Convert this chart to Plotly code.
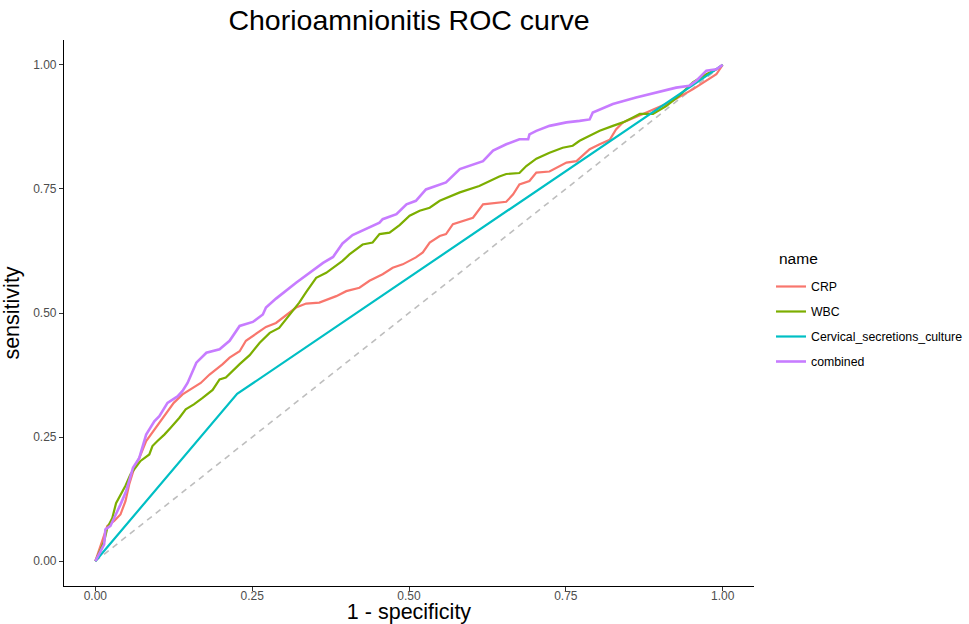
import plotly.graph_objects as go

# ROC points (1 - specificity, sensitivity)
crp_fpr = [0, 0.011, 0.019, 0.030, 0.040, 0.048, 0.054, 0.062, 0.070, 0.081, 0.104, 0.125,
           0.139, 0.152, 0.168, 0.182, 0.203, 0.214, 0.230, 0.240, 0.272, 0.288, 0.299, 0.320,
           0.336, 0.357, 0.384, 0.400, 0.421, 0.437, 0.458, 0.474, 0.490, 0.511, 0.522, 0.533,
           0.549, 0.559, 0.570, 0.602, 0.618, 0.655, 0.666, 0.676, 0.692, 0.703, 0.724, 0.751,
           0.767, 0.788, 0.804, 0.820, 0.830, 0.841, 0.873, 0.915, 0.953, 0.979, 0.990, 1.0]
crp_tpr = [0, 0.040, 0.071, 0.081, 0.094, 0.121, 0.155, 0.188, 0.208, 0.242, 0.282, 0.319,
           0.336, 0.346, 0.359, 0.376, 0.397, 0.410, 0.423, 0.444, 0.472, 0.480, 0.491, 0.511,
           0.519, 0.521, 0.534, 0.544, 0.551, 0.565, 0.578, 0.591, 0.598, 0.612, 0.622, 0.642,
           0.655, 0.659, 0.679, 0.692, 0.719, 0.724, 0.739, 0.759, 0.766, 0.783, 0.785, 0.803,
           0.806, 0.830, 0.840, 0.849, 0.870, 0.884, 0.901, 0.924, 0.951, 0.971, 0.981, 1.0]

wbc_fpr = [0, 0.014, 0.019, 0.027, 0.033, 0.040, 0.048, 0.056, 0.064, 0.072, 0.086, 0.091,
           0.099, 0.110, 0.120, 0.134, 0.144, 0.157, 0.171, 0.187, 0.198, 0.208, 0.230, 0.246,
           0.262, 0.278, 0.293, 0.304, 0.315, 0.325, 0.336, 0.352, 0.368, 0.394, 0.405, 0.426,
           0.442, 0.453, 0.469, 0.485, 0.501, 0.517, 0.533, 0.549, 0.581, 0.612, 0.644, 0.655,
           0.676, 0.687, 0.703, 0.724, 0.745, 0.761, 0.772, 0.793, 0.804, 0.825, 0.841, 0.857,
           0.868, 0.889, 0.910, 0.931, 0.953, 0.974, 0.990, 1.0]
wbc_tpr = [0, 0.040, 0.067, 0.087, 0.117, 0.134, 0.152, 0.175, 0.188, 0.202, 0.215, 0.232,
           0.242, 0.255, 0.269, 0.289, 0.306, 0.316, 0.329, 0.345, 0.366, 0.370, 0.397, 0.415,
           0.440, 0.460, 0.470, 0.487, 0.504, 0.521, 0.542, 0.571, 0.581, 0.605, 0.618, 0.638,
           0.642, 0.659, 0.662, 0.677, 0.696, 0.706, 0.712, 0.726, 0.743, 0.756, 0.775, 0.780,
           0.782, 0.796, 0.811, 0.823, 0.833, 0.837, 0.847, 0.860, 0.867, 0.877, 0.884, 0.894,
           0.901, 0.901, 0.917, 0.938, 0.965, 0.981, 0.991, 1.0]

culture_fpr = [0, 0.226, 1.0]
culture_tpr = [0, 0.337, 1.0]

comb_fpr = [0, 0.014, 0.016, 0.024, 0.040, 0.049, 0.060, 0.070, 0.081, 0.094, 0.102, 0.115,
            0.131, 0.139, 0.147, 0.155, 0.161, 0.177, 0.198, 0.214, 0.230, 0.251, 0.267, 0.272,
            0.288, 0.320, 0.347, 0.363, 0.379, 0.394, 0.410, 0.432, 0.453, 0.458, 0.480, 0.496,
            0.511, 0.527, 0.559, 0.581, 0.618, 0.634, 0.655, 0.676, 0.690, 0.692, 0.703, 0.724,
            0.751, 0.772, 0.788, 0.793, 0.825, 0.862, 0.905, 0.926, 0.947, 0.958, 0.974, 0.990, 1.0]
comb_tpr = [0, 0.034, 0.064, 0.071, 0.114, 0.141, 0.188, 0.208, 0.255, 0.282, 0.292, 0.319,
            0.332, 0.343, 0.359, 0.383, 0.400, 0.420, 0.427, 0.444, 0.474, 0.482, 0.497, 0.511,
            0.529, 0.561, 0.586, 0.601, 0.613, 0.640, 0.657, 0.670, 0.682, 0.689, 0.699, 0.719,
            0.726, 0.749, 0.763, 0.790, 0.806, 0.827, 0.840, 0.850, 0.850, 0.860, 0.867, 0.877,
            0.884, 0.887, 0.890, 0.904, 0.921, 0.934, 0.948, 0.954, 0.958, 0.968, 0.988, 0.991, 1.0]

names = ["CRP", "WBC", "Cervical_secretions_culture", "combined"]
colors = ["#F8766D", "#7CAE00", "#00BFC4", "#C77CFF"]
series = [(crp_fpr, crp_tpr), (wbc_fpr, wbc_tpr), (culture_fpr, culture_tpr), (comb_fpr, comb_tpr)]
ticks = [0, 0.25, 0.5, 0.75, 1.0]
tick_labels = ["0.00", "0.25", "0.50", "0.75", "1.00"]

W, H = 969, 624

fig = go.Figure()
# chance line
fig.add_trace(go.Scatter(x=[0, 1], y=[0, 1], mode="lines", showlegend=False, hoverinfo="skip",
                         line=dict(color="#BEBEBE", width=1.6, dash="6px,5px")))
for name, col, (fx, ty) in zip(names, colors, series):
    fig.add_trace(go.Scatter(x=fx, y=ty, mode="lines", name=name, legendgroup=name,
                             line=dict(color=col, width=2.6 if name == "combined" else 2.2)))

axis = dict(range=[-0.05, 1.05], tickvals=ticks, ticktext=tick_labels, showgrid=False,
            zeroline=False, showline=True, linecolor="black", linewidth=1.1, automargin=False,
            ticks="outside", ticklen=4, tickcolor="#333333", tickwidth=1,
            tickfont=dict(size=12, color="#4D4D4D"))

fig.update_layout(
    width=W, height=H, autosize=False,
    paper_bgcolor="white", plot_bgcolor="white",
    font=dict(family="Liberation Sans, Arial, sans-serif", color="black"),
    margin=dict(l=64, r=215, t=40, b=38),
    title=dict(text="Chorioamnionitis ROC curve", x=409 / W, xanchor="center",
               y=1 - 20 / H, yanchor="middle", font=dict(size=28.5, color="black")),
    xaxis=dict(axis, ticklabelstandoff=-5,
               title=dict(text="1 - specificity", font=dict(size=21.5), standoff=2)),
    yaxis=dict(axis, title=dict(text="sensitivity", font=dict(size=21.5), standoff=8)),
    legend=dict(font=dict(size=12.3), xref="container", yref="container",
                x=771 / W, xanchor="left", y=1 - 272 / H, yanchor="top",
                tracegroupgap=6, bgcolor="rgba(0,0,0,0)"),
    annotations=[dict(text="name", xref="paper", yref="paper", showarrow=False,
                      x=(777 - 64) / (W - 64 - 215), y=(586 - 258) / (624 - 40 - 38),
                      xanchor="left", yanchor="middle", font=dict(size=15.5))],
)

# drop the browser's default 8px body margin so the figure sits at the window corner
fig.write_html("out.html", config={"displayModeBar": False},
               post_script="document.body.style.margin='0';")
